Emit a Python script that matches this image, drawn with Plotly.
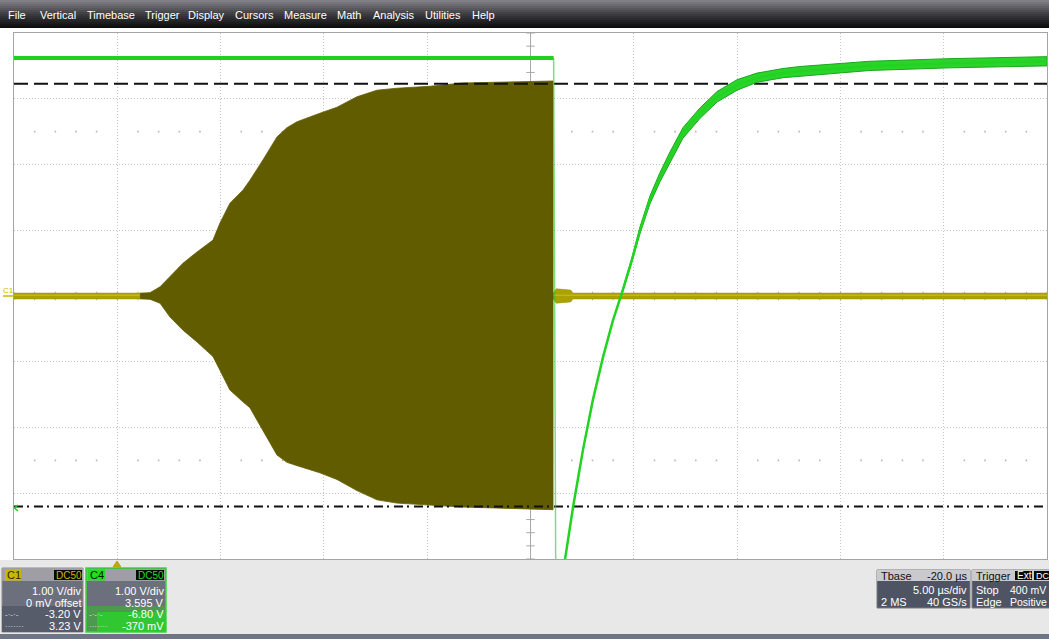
import numpy as np
import plotly.graph_objects as go

# ---------------- acquisition data (time in µs, amplitude in screen volts) ----------------
# C1: RF burst envelope
burst_t = [1.10, 1.58, 2.07, 2.55, 3.18, 3.86, 4.63, 4.97, 5.45, 6.08, 6.42, 7.05,
           7.73, 8.21, 8.70, 9.81, 10.63, 11.60, 12.57, 13.54, 15.14, 16.73, 18.38, 21.09]
burst_hi = [0.04, 0.05, 0.14, 0.29, 0.50, 0.67, 0.85, 1.11, 1.41, 1.61, 1.76, 2.07,
            2.42, 2.56, 2.65, 2.78, 2.87, 3.03, 3.13, 3.16, 3.19, 3.24, 3.25, 3.27]
burst_lo = [-0.04, -0.05, -0.11, -0.32, -0.52, -0.70, -0.92, -1.13, -1.43, -1.61, -1.70, -2.04,
            -2.42, -2.53, -2.58, -2.69, -2.79, -2.96, -3.10, -3.15, -3.18, -3.21, -3.22, -3.25]

# C1: idle baseline with the short ring-down after the burst
base_t = [-5.0, 21.10, 21.25, 21.95, 22.05, 45.0]
base_hw = [0.045, 0.045, 0.11, 0.09, 0.045, 0.045]

# C4: gate signal, flat level, fall and exponential recovery
c4_top_t = [-5.0, 21.12]
c4_top_v = [3.62, 3.62]
c4_fall_t = [21.12, 21.22]
c4_fall_v = [3.62, -4.10]
c4_rise_t = [21.65, 22.06, 22.54, 23.02, 23.51, 23.99, 24.43, 24.91, 25.30, 25.78, 26.27,
             26.75, 27.38, 28.20, 29.03, 30.00, 30.96, 32.22, 33.04, 36.43, 40.30, 45.00]
c4_rise_v = [-4.05, -3.21, -2.34, -1.58, -0.93, -0.37, 0.05, 0.55, 1.00, 1.46, 1.81,
             2.11, 2.48, 2.78, 3.03, 3.21, 3.32, 3.39, 3.42, 3.50, 3.54, 3.57]
c4_rise_hw = [0.0, 0.0, 0.0, 0.0, 0.0, 0.0, 0.02, 0.03, 0.05, 0.06, 0.07,
              0.08, 0.08, 0.08, 0.08, 0.08, 0.07, 0.07, 0.07, 0.07, 0.07, 0.07]

# cursor readouts
cursor_hi = 3.23
cursor_lo = -3.20

# screen / menu text
menu_items = ["File", "Vertical", "Timebase", "Trigger", "Display", "Cursors",
              "Measure", "Math", "Analysis", "Utilities", "Help"]
menu_x = [7, 39, 86, 144, 187, 234, 283, 336, 372, 424, 471]
c1_rows = ["1.00 V/div", "0 mV offset", "-3.20 V", "3.23 V"]
c4_rows = ["1.00 V/div", "3.595 V", "-6.80 V", "-370 mV"]

# ---------------- geometry helpers ----------------
W, H = 1049, 639
L, R, T, B = 14, 2, 33, 80
PW, PH = W - L - R, H - T - B
FONT = "Liberation Sans, Arial, sans-serif"


def px(x):
    return (x - L) / PW


def py(y):
    return (H - B - y) / PH


shapes = []
annotations = []


def rect(x0, y0, x1, y1, fill, line=None, lw=0):
    shapes.append(dict(type="rect", xref="paper", yref="paper",
                       x0=px(x0), x1=px(x1), y0=py(y1), y1=py(y0),
                       fillcolor=fill, line=dict(color=line or fill, width=lw),
                       layer="above"))


def text(x, y, s, color="white", size=11, anchor="left"):
    annotations.append(dict(xref="paper", yref="paper", x=px(x), y=py(y), text=s,
                            showarrow=False, xanchor=anchor, yanchor="middle",
                            borderpad=0,
                            font=dict(family=FONT, size=size, color=color)))


def path(pts, stroke, fill=None, lw=1.5):
    d = "M " + " L ".join(f"{px(a):.5f},{py(b):.5f}" for a, b in pts)
    if fill:
        d += " Z"
    shapes.append(dict(type="path", xref="paper", yref="paper", path=d,
                       line=dict(color=stroke, width=lw),
                       fillcolor=fill or "rgba(0,0,0,0)", layer="above"))


fig = go.Figure()

# ---------------- graticule decorations ----------------
tick_t = np.arange(-5, 46, 1)
tick_v = np.round(np.arange(-4, 4.01, 0.2), 2)
fig.add_trace(go.Scatter(x=tick_t, y=np.zeros_like(tick_t), mode="markers",
                         marker=dict(symbol="line-ns", size=6,
                                     line=dict(color="#a8a8a8", width=1)),
                         hoverinfo="skip"))
fig.add_trace(go.Scatter(x=np.full_like(tick_v, 20.0), y=tick_v, mode="markers",
                         marker=dict(symbol="line-ew", size=6,
                                     line=dict(color="#a8a8a8", width=1)),
                         hoverinfo="skip"))
dot_t = [t for t in range(-4, 45) if t % 5 != 0]
fig.add_trace(go.Scatter(x=dot_t * 2, y=[2.5] * len(dot_t) + [-2.5] * len(dot_t),
                         mode="markers",
                         marker=dict(symbol="square", size=1.6, color="#b4b4b4"),
                         hoverinfo="skip"))
shapes.append(dict(type="line", xref="x", yref="y", x0=20, x1=20, y0=-4, y1=4,
                   line=dict(color="#a8a8a8", width=1), layer="between"))
shapes.append(dict(type="line", xref="x", yref="y", x0=-5, x1=45, y0=0, y1=0,
                   line=dict(color="#a8a8a8", width=1), layer="between"))

# ---------------- channel C1 ----------------
fig.add_trace(go.Scatter(x=base_t + base_t[::-1],
                         y=base_hw + [-h for h in base_hw[::-1]],
                         fill="toself", fillcolor="#aba100",
                         line=dict(color="#9a9000", width=0.5), mode="lines",
                         hoverinfo="skip"))
fig.add_trace(go.Scatter(x=base_t, y=[0.01] * len(base_t), mode="lines",
                         line=dict(color="#c2b812", width=1.5), hoverinfo="skip"))
fig.add_trace(go.Scatter(x=burst_t + burst_t[::-1],
                         y=burst_hi + burst_lo[::-1],
                         fill="toself", fillcolor="#615c00",
                         line=dict(color="#615c00", width=0.8), mode="lines",
                         hoverinfo="skip"))

# ---------------- cursors ----------------
fig.add_trace(go.Scatter(x=[-5, 45], y=[cursor_hi, cursor_hi], mode="lines",
                         line=dict(color="#111111", width=2, dash="14px,6px"),
                         hoverinfo="skip"))
fig.add_trace(go.Scatter(x=[-5, 45], y=[cursor_lo, cursor_lo], mode="lines",
                         line=dict(color="#111111", width=2, dash="9px,4px,2px,5px"),
                         hoverinfo="skip"))

# ---------------- channel C4 ----------------
fig.add_trace(go.Scatter(x=c4_top_t, y=c4_top_v, mode="lines",
                         line=dict(color="#1fd21f", width=4), hoverinfo="skip"))
fig.add_trace(go.Scatter(x=c4_fall_t, y=c4_fall_v, mode="lines",
                         line=dict(color="rgba(40,200,40,0.6)", width=1.5),
                         hoverinfo="skip"))
band_hi = [v + h for v, h in zip(c4_rise_v, c4_rise_hw)]
band_lo = [v - h for v, h in zip(c4_rise_v, c4_rise_hw)]
fig.add_trace(go.Scatter(x=c4_rise_t + c4_rise_t[::-1], y=band_hi + band_lo[::-1],
                         fill="toself", fillcolor="#2ad42a",
                         line=dict(color="#1aa81a", width=1), mode="lines",
                         hoverinfo="skip"))
fig.add_trace(go.Scatter(x=c4_rise_t, y=c4_rise_v, mode="lines",
                         line=dict(color="#22d322", width=2.5), hoverinfo="skip"))

# ---------------- menu bar ----------------
top_c = np.array([128, 128, 134])
mid_c = np.array([62, 62, 66])
bot_c = np.array([14, 14, 14])
for i in range(14):
    f = i / 13
    c = top_c + (mid_c - top_c) * (f / 0.5) if f < 0.5 else mid_c + (bot_c - mid_c) * ((f - 0.5) / 0.5)
    rect(0, i * 2, W, i * 2 + 2, "rgb(%d,%d,%d)" % tuple(c.astype(int)))
for lab, x in zip(menu_items, menu_x):
    text(x, 15.5, lab, "white", 11)

# ---------------- bottom status area ----------------
rect(0, 560, W, 634, "#e8e8e8")
rect(0, 634, W, H, "#6f7486")
path([(113, 567), (121, 567), (117, 561)], "#b8a800", "#b8a800", 1)

# C1 descriptor
rect(2, 568, 83, 632, "#6c707d", "#8c8c92", 1)
rect(2, 568, 83, 581, "#9e9ea4")
rect(2, 606, 83, 632, "#575c6a")
rect(5, 569.5, 21, 580.5, "#c9b800")
text(6, 575, "C1", "#2e2a00", 11)
rect(54, 570, 82, 580, "#080808")
text(55, 575, "DC50", "#c9b800", 10)
for i, s in enumerate(c1_rows):
    text(82, 591 + i * 11.7, s, "white", 11, "right")
text(4, 614, "-·-·-", "#e0e0e0", 8)
text(4, 626, "·······", "#e0e0e0", 8)

# C4 descriptor
rect(86, 568, 166, 632, "#6c707d", "#3ad83a", 1.5)
rect(87, 569, 165, 581, "#9e9ea4")
rect(87, 606, 165, 631, "rgba(70,160,70,0.85)")
rect(97, 612, 165, 631, "rgba(40,215,40,0.75)")
rect(88, 569.5, 105, 580.5, "#22dd22")
text(89, 575, "C4", "#002200", 11)
rect(136, 570, 164, 580, "#080808")
text(137, 575, "DC50", "#22dd22", 10)
for i, s in enumerate(c4_rows):
    text(165, 591 + i * 11.7, s, "white", 11, "right")
text(88, 614, "-·-·-", "#e0e0e0", 8)
text(88, 626, "·······", "#e0e0e0", 8)

# timebase descriptor
rect(877, 570, 970, 608, "#4f5464", "#7a7a80", 1)
rect(877, 570, 970, 581, "#cacace")
text(880, 576, "Tbase", "#111111", 11)
text(968, 576, "-20.0 µs", "#111111", 11, "right")
text(968, 590, "5.00 µs/div", "white", 11, "right")
text(880, 602, "2 MS", "white", 11)
text(968, 602, "40 GS/s", "white", 11, "right")

# trigger descriptor
rect(972, 570, 1052, 608, "#4f5464", "#7a7a80", 1)
rect(972, 570, 1052, 581, "#cacace")
text(975, 576, "Trigger", "#111111", 11)
rect(1015, 571, 1032, 580, "#080808")
text(1016, 575.5, "Ext", "white", 10)
rect(1034, 571, 1052, 580, "#080808")
text(1035, 575.5, "DC", "white", 9)
text(975, 590, "Stop", "white", 11)
text(1047, 590, "400 mV", "white", 10.5, "right")
text(975, 602, "Edge", "white", 11)
text(1048, 602, "Positive", "white", 10.5, "right")

# left-edge channel / cursor markers
text(2, 290.5, "C1", "#c9b800", 8)
path([(3, 296), (13, 296)], "#c9b800", None, 1.5)
path([(18, 505), (14.5, 508), (18, 511)], "#22cc22", None, 1.5)

fig.update_layout(
    width=W, height=H, autosize=False,
    margin=dict(l=L, r=R, t=T, b=B, pad=0),
    paper_bgcolor="white", plot_bgcolor="white",
    showlegend=False,
    shapes=shapes, annotations=annotations,
    xaxis=dict(range=[-5, 45], tick0=0, dtick=5, showticklabels=False, ticks="",
               showgrid=True, gridcolor="#c4c4c4", griddash="1px,2px", gridwidth=1,
               zeroline=False, showline=True, mirror=True,
               linecolor="#a4a4a4", linewidth=1, fixedrange=True),
    yaxis=dict(range=[-4, 4], tick0=0, dtick=1, showticklabels=False, ticks="",
               showgrid=True, gridcolor="#c4c4c4", griddash="1px,2px", gridwidth=1,
               zeroline=False, showline=True, mirror=True,
               linecolor="#a4a4a4", linewidth=1, fixedrange=True),
)

fig.write_html("out.html")
